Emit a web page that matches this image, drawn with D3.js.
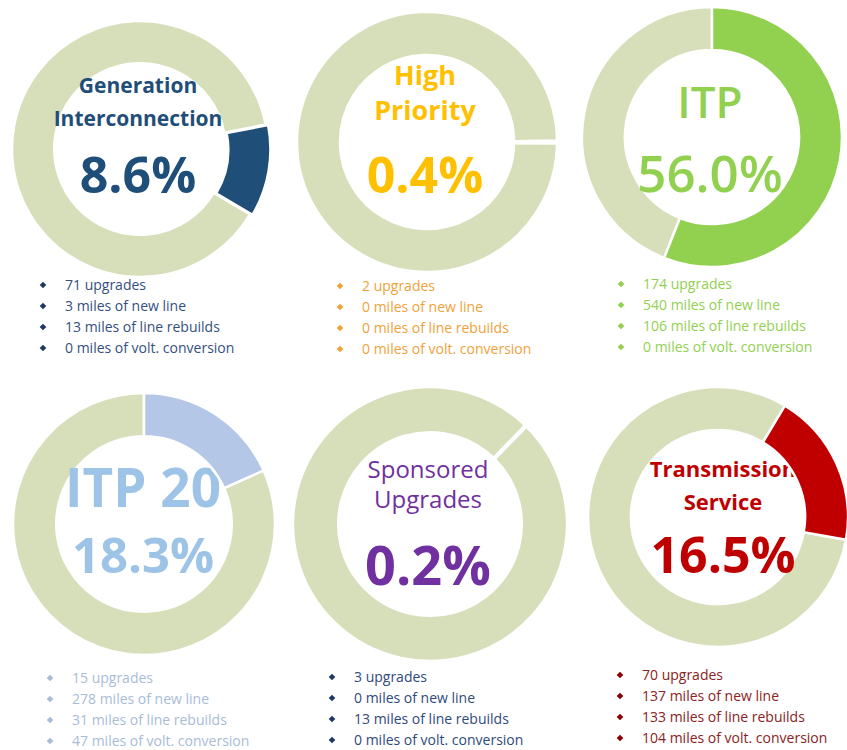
<!DOCTYPE html>
<html>
<head>
<meta charset="utf-8">
<script src="https://cdn.jsdelivr.net/npm/d3@7"></script>
<style>
  html, body { margin: 0; padding: 0; background: #ffffff; }
  svg { display: block; }
  text { white-space: pre; }
</style>
</head>
<body>
<svg id="chart" width="847" height="750"></svg>
<script>
// ---------------- DATA ----------------
const categories = ["Generation Interconnection", "High Priority", "ITP", "ITP 20", "Sponsored Upgrades", "Transmission Service"];
const titleLines = [["Generation", "Interconnection"], ["High", "Priority"], ["ITP"], ["ITP 20"], ["Sponsored", "Upgrades"], ["Transmission", "Service"]];
const pctLabels = [8.6, 0.4, 56.0, 18.3, 0.2, 16.5];
// share of ring taken by the highlighted slice
const sliceShare = [11.6, 0.3, 56.0, 18.3, 0.2, 19.2];
const upgrades = [71, 2, 174, 15, 3, 70];
const newLineMiles = [3, 0, 540, 278, 0, 137];
const rebuildMiles = [13, 0, 106, 31, 13, 133];
const voltConvMiles = [0, 0, 0, 47, 0, 104];

// ---------------- STYLE / LAYOUT ----------------
const ringColor = "#d6dfb9";
const sliceColors = ["#1f4e79", "#ffc000", "#92d050", "#b4c7e7", "#7030a0", "#c00000"];
const titleColors = ["#1f4e79", "#ffc000", "#92d050", "#9dc3e6", "#7030a0", "#c00000"];
const bulletTextColors = ["#34507f", "#f0a23a", "#92d050", "#a8bcd8", "#2f4a7c", "#8b2222"];
const bulletMarkColors = ["#1f3864", "#f0a23a", "#92d050", "#a8bcd8", "#1f3864", "#8b0000"];
const startDeg = [79, 89.5, 0, 0, 44, 31];
const explode = [2.5, 0, 0, 0, 0, 0];

const layout = [
  { cx: 140, cy: 149, r: 128, tx: -2,  lines: [{dy: -56, fs: 21, fw: 700}, {dy: -23, fs: 21, fw: 700}], pct: {dy: 44, fs: 50, fw: 700}, bx: 43,  by: 285 },
  { cx: 427, cy: 142, r: 130, tx: -2,  lines: [{dy: -57, fs: 27, fw: 700}, {dy: -22, fs: 27, fw: 700}], pct: {dy: 51, fs: 50, fw: 700}, bx: 340, by: 286 },
  { cx: 712, cy: 137, r: 130, tx: -2,  lines: [{dy: -19, fs: 44, fw: 600}], pct: {dy: 55, fs: 51, fw: 600}, bx: 621, by: 284 },
  { cx: 144, cy: 524, r: 131, tx: -1,  lines: [{dy: -17, fs: 53, fw: 700}], pct: {dy: 49, fs: 49, fw: 700}, bx: 50,  by: 678 },
  { cx: 430, cy: 524, r: 137, tx: -2,  lines: [{dy: -46, fs: 24, fw: 400}, {dy: -16, fs: 24, fw: 400}], pct: {dy: 61, fs: 54, fw: 700}, bx: 332, by: 677 },
  { cx: 718, cy: 517, r: 130, tx: 5,   lines: [{dy: -40, fs: 22, fw: 700}, {dy: -7, fs: 22, fw: 700}], pct: {dy: 56, fs: 50, fw: 700}, bx: 620, by: 675 }
];
const bulletGap = 21;
const fontFamily = "'Open Sans', 'Noto Sans', sans-serif";

// ---------------- DRAW ----------------
const svg = d3.select("#chart");
svg.append("rect").attr("width", 847).attr("height", 750).attr("fill", "#ffffff");

const pctFmt = d3.format(".1f");

function drawTitle(g, i, L) {
  const tg = g.append("g").attr("font-family", fontFamily).attr("text-anchor", "middle").attr("fill", titleColors[i]);
  titleLines[i].forEach((line, k) => {
    tg.append("text").attr("x", L.tx).attr("y", L.lines[k].dy)
      .attr("font-size", L.lines[k].fs).attr("font-weight", L.lines[k].fw)
      .text(line);
  });
  tg.append("text").attr("x", L.tx).attr("y", L.pct.dy)
    .attr("font-size", L.pct.fs).attr("font-weight", L.pct.fw)
    .text(pctFmt(pctLabels[i]) + "%");
}

categories.forEach((cat, i) => {
  const L = layout[i];
  const g = svg.append("g").attr("transform", `translate(${L.cx},${L.cy})`);

  const start = startDeg[i] * Math.PI / 180;
  const pie = d3.pie().sort(null).value(d => d.v)
    .startAngle(start).endAngle(start + 2 * Math.PI);
  const slices = pie([{ v: sliceShare[i], hi: true }, { v: 100 - sliceShare[i], hi: false }]);
  const arc = d3.arc().innerRadius(L.r * 0.67).outerRadius(L.r);

  const drawSlices = (sel, cls) => g.selectAll("path." + cls).data(sel).join("path")
    .attr("class", cls)
    .attr("d", arc)
    .attr("transform", d => {
      if (!d.data.hi || !explode[i]) return null;
      const a = (d.startAngle + d.endAngle) / 2;
      return `translate(${Math.sin(a) * explode[i]},${-Math.cos(a) * explode[i]})`;
    })
    .attr("fill", d => d.data.hi ? sliceColors[i] : ringColor)
    .attr("stroke", "#ffffff")
    .attr("stroke-width", 2.5)
    .attr("stroke-linejoin", "round");

  // background part of ring, then titles, then highlighted slice on top
  drawSlices(slices.filter(d => !d.data.hi), "rest");
  drawTitle(g, i, L);
  drawSlices(slices.filter(d => d.data.hi), "hi");

  // bullets
  const items = [
    `${upgrades[i]} upgrades`,
    `${newLineMiles[i]} miles of new line`,
    `${rebuildMiles[i]} miles of line rebuilds`,
    `${voltConvMiles[i]} miles of volt. conversion`
  ];
  const bg = svg.append("g").attr("font-family", fontFamily).attr("font-size", 14);
  items.forEach((t, k) => {
    const y = L.by + k * bulletGap;
    bg.append("path")
      .attr("d", d3.symbol(d3.symbolSquare, 22)())
      .attr("transform", `translate(${L.bx},${y}) rotate(45)`)
      .attr("fill", bulletMarkColors[i]);
    bg.append("text")
      .attr("x", L.bx + 22).attr("y", y + 5)
      .attr("fill", bulletTextColors[i])
      .text(t);
  });
});
</script>
</body>
</html>
